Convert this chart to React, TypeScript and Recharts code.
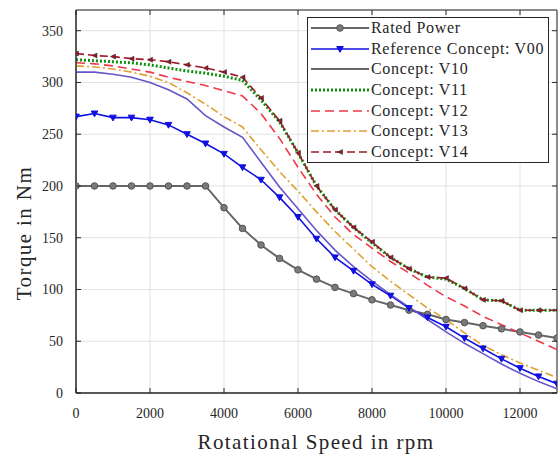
import { LineChart, Line, XAxis, YAxis, CartesianGrid, ReferenceArea } from "recharts";

const FONT = "'Liberation Serif', 'Times New Roman', serif";

// rotational speed in rpm
const rpm = [
  0, 500, 1000, 1500, 2000, 2500, 3000, 3500, 4000, 4500, 5000, 5500, 6000, 6500,
  7000, 7500, 8000, 8500, 9000, 9500, 10000, 10500, 11000, 11500, 12000, 12500, 13000,
];

// torque in Nm
const rated = [200, 200, 200, 200, 200, 200, 200, 200, 179, 159, 143, 130, 119, 110, 102, 96, 90, 85, 80, 76, 71, 68, 65, 62, 59, 56, 53];
const v00 = [267, 270, 266, 266, 264, 259, 250, 241, 231, 218, 206, 189, 170, 149, 131, 118, 105, 94, 82, 73, 64, 53, 43, 33, 24, 16, 9];
const v10 = [310, 310, 308, 305, 300, 293, 284, 268, 257, 247, 223, 199, 178, 157, 138, 122, 108, 95, 83, 71, 59, 48, 38, 28, 19, 11, 4];
const v11 = [322, 321, 320, 319, 317, 314, 311, 309, 306, 302, 283, 262, 232, 200, 177, 160, 145, 131, 120, 112, 110, 101, 90, 89, 80, 80, 80];
const v12 = [319, 318, 316, 313, 310, 305, 301, 297, 292, 287, 270, 246, 218, 192, 170, 153, 140, 127, 116, 104, 93, 84, 74, 66, 58, 50, 42];
const v13 = [316, 315, 313, 310, 306, 300, 290, 279, 267, 257, 235, 214, 195, 175, 156, 139, 122, 108, 95, 82, 71, 58, 46, 37, 29, 22, 15];
const v14 = [328, 326, 325, 323, 322, 320, 317, 314, 310, 305, 285, 263, 232, 200, 177, 160, 146, 131, 120, 112, 111, 101, 90, 89, 80, 80, 80];

const xTicks = [0, 2000, 4000, 6000, 8000, 10000, 12000];
const yTicks = [0, 50, 100, 150, 200, 250, 300, 350];

const series = [
  { key: "rated", name: "Rated Power", values: rated, color: "#666666", width: 2, dash: undefined, marker: "circle" },
  { key: "v00", name: "Reference Concept: V00", values: v00, color: "#1010e0", width: 1.6, dash: undefined, marker: "down" },
  { key: "v10", name: "Concept: V10", values: v10, color: "#6655c8", width: 1.6, dash: undefined, marker: "none" },
  { key: "v11", name: "Concept: V11", values: v11, color: "#109010", width: 3, dash: "2 2", marker: "none" },
  { key: "v12", name: "Concept: V12", values: v12, color: "#ee3848", width: 1.6, dash: "9 5", marker: "none" },
  { key: "v13", name: "Concept: V13", values: v13, color: "#e0a030", width: 1.6, dash: "8 3 2 3", marker: "none" },
  { key: "v14", name: "Concept: V14", values: v14, color: "#a01828", width: 1.6, dash: "8 4", marker: "left" },
];

const data = rpm.map((r, i) => {
  const row: Record<string, number> = { rpm: r };
  series.forEach((s) => (row[s.key] = s.values[i]));
  return row;
});

// plot box in pixels
const L = 76, R = 557, T = 10, B = 393;

function Marker({ type, cx, cy, color }: { type: string; cx: number; cy: number; color: string }) {
  if (type === "circle")
    return <circle cx={cx} cy={cy} r={3.3} fill="#7a7a7a" stroke="#555" strokeWidth={1} />;
  if (type === "down")
    return <path d={`M${cx - 3.3},${cy - 2.5} L${cx + 3.3},${cy - 2.5} L${cx},${cy + 3.3} Z`} fill={color} stroke={color} />;
  if (type === "left")
    return <path d={`M${cx + 2.5},${cy - 2.5} L${cx + 2.5},${cy + 2.5} L${cx - 2.5},${cy} Z`} fill={color} stroke="#222" strokeWidth={0.5} />;
  return null;
}

const XTick = (props: any) => {
  const { x, payload } = props;
  return (
    <g>
      <line x1={x} x2={x} y1={B} y2={B - 5} stroke="#262626" />
      <line x1={x} x2={x} y1={T} y2={T + 5} stroke="#262626" />
      <text x={x} y={418} textAnchor="middle" fontFamily={FONT} fontSize={14} fill="#262626">
        {payload.value}
      </text>
    </g>
  );
};

const YTick = (props: any) => {
  const { y, payload } = props;
  return (
    <g>
      <line x1={L} x2={L + 5} y1={y} y2={y} stroke="#262626" />
      <line x1={R} x2={R - 5} y1={y} y2={y} stroke="#262626" />
      <text x={63} y={y} dy="0.35em" textAnchor="end" fontFamily={FONT} fontSize={14} fill="#262626">
        {payload.value}
      </text>
    </g>
  );
};

function LegendBox() {
  return (
    <div
      style={{
        position: "absolute",
        left: 307,
        top: 17,
        width: 242,
        height: 146,
        boxSizing: "border-box",
        border: "1px solid #262626",
        background: "#fff",
        fontFamily: FONT,
        fontSize: 16,
        letterSpacing: 0.7,
        color: "#262626",
      }}
    >
      {series.map((s) => (
        <div key={s.key} style={{ display: "flex", alignItems: "center", height: 20.6 }}>
          <svg width={62} height={20} style={{ marginLeft: 1, flex: "none" }}>
            <line x1={2} x2={60} y1={10} y2={10} stroke={s.key === "v10" ? "#333" : s.color} strokeWidth={s.width} strokeDasharray={s.dash} />
            <Marker type={s.marker} cx={31} cy={10} color={s.color} />
          </svg>
          <span style={{ whiteSpace: "nowrap" }}>{s.name}</span>
        </div>
      ))}
    </div>
  );
}

export default function App() {
  return (
    <div style={{ position: "absolute", left: 0, top: 0, width: 558, height: 460, background: "#fff" }}>
      <LineChart width={558} height={460} data={data} margin={{ top: T, right: 558 - R, left: 0, bottom: 0 }}>
        <CartesianGrid stroke="#e2e2e2" strokeWidth={1} />
        <XAxis
          dataKey="rpm"
          type="number"
          domain={[0, 13000]}
          ticks={xTicks}
          allowDataOverflow
          height={460 - B}
          tickLine={false}
          axisLine={{ stroke: "#262626" }}
          tick={<XTick />}
          interval={0}
        />
        <YAxis
          type="number"
          domain={[0, 370]}
          ticks={yTicks}
          allowDataOverflow
          width={L}
          tickLine={false}
          axisLine={{ stroke: "#262626" }}
          tick={<YTick />}
          interval={0}
        />
        <ReferenceArea x1={0} x2={13000} y1={0} y2={370} fill="none" stroke="#262626" strokeWidth={1} ifOverflow="visible" />
        {series.map((s) => (
          <Line
            key={s.key}
            dataKey={s.key}
            type="linear"
            stroke={s.color}
            strokeWidth={s.width}
            strokeDasharray={s.dash}
            isAnimationActive={false}
            dot={
              s.marker === "none"
                ? false
                : (p: any) => <Marker key={`${s.key}-${p.index}`} type={s.marker} cx={p.cx} cy={p.cy} color={s.color} />
            }
            activeDot={false}
          />
        ))}
        <text x={316} y={449} textAnchor="middle" fontFamily={FONT} fontSize={21} letterSpacing={1.4} fill="#262626">
          Rotational Speed in rpm
        </text>
        <text x={31} y={233} textAnchor="middle" fontFamily={FONT} fontSize={21} letterSpacing={1.4} fill="#262626" transform="rotate(-90 31 233)">
          Torque in Nm
        </text>
      </LineChart>
      <LegendBox />
    </div>
  );
}
